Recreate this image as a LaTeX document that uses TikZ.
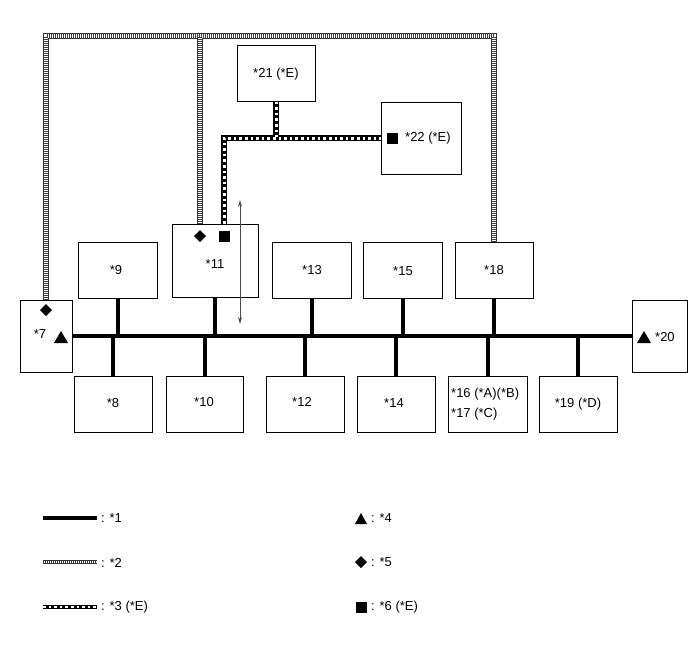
\documentclass[tikz,border=0pt]{standalone}
\usepackage{fontspec}
\setmainfont{Liberation Sans}
\usetikzlibrary{arrows.meta}
\begin{document}
\begin{tikzpicture}[x=1pt,y=-1pt,
  box/.style={draw=black,line width=1pt,inner sep=0pt,fill=white},
  lbl/.style={inner sep=0pt,font=\fontsize{13}{15}\selectfont},
  busline/.style={line width=4pt,black},
  hatchbg/.style={line width=5.5pt,draw=gray!40!black},
  hatchfg/.style={line width=3.5pt,draw=gray!50!black,dash pattern=on 1pt off 1pt},
  hatchwhite/.style={line width=3.5pt,draw=white},
  dotbg/.style={line width=5.5pt,draw=black},
  dotfg/.style={line width=3pt,draw=white,dash pattern=on 2.6pt off 3pt}]
\useasboundingbox (0,0) rectangle (690,659);
% boxes
\node[box,minimum width=52,minimum height=72] (n7) at (46,336) {};
\node[box,minimum width=55,minimum height=72] (n20) at (659.5,336) {};
\node[box,minimum width=79,minimum height=56] (n9) at (117.5,270) {};
\node[box,minimum width=86,minimum height=73] (n11) at (215,260.5) {};
\node[box,minimum width=79,minimum height=56] (n13) at (311.5,270) {};
\node[box,minimum width=79,minimum height=56] (n15) at (402.5,270) {};
\node[box,minimum width=78,minimum height=56] (n18) at (494,270) {};
\node[box,minimum width=78,minimum height=56] (n8) at (113,404) {};
\node[box,minimum width=77,minimum height=56] (n10) at (204.5,404) {};
\node[box,minimum width=78,minimum height=56] (n12) at (305,404) {};
\node[box,minimum width=78,minimum height=56] (n14) at (396,404) {};
\node[box,minimum width=79,minimum height=56] (n16) at (487.5,404) {};
\node[box,minimum width=78,minimum height=56] (n19) at (578,404) {};
\node[box,minimum width=78,minimum height=56] (n21) at (276,73) {};
\node[box,minimum width=80,minimum height=72] (n22) at (421,138) {};
% coordinates
\coordinate (htop) at (200,36);
\coordinate (dcorner) at (224,137);
% hatched lines *2
\foreach \s in {hatchbg,hatchwhite,hatchfg}{
  \draw[\s] (n7.north) |- (htop) -| (n18.north);
  \draw[\s] (n11.north -| htop) -- (htop);
}
% dotted line *3
\foreach \s in {dotbg,dotfg}{
  \draw[\s] (n21.south) -- (n21.south |- dcorner);
  \draw[\s] (n11.north -| dcorner) |- (n22.west);
}
% bus *1
\draw[busline] (n7.east) -- (n20.west);
\foreach \n in {n9,n11,n13,n15,n18}{
  \draw[busline] (\n.south) -- (\n.south |- n7.east);
}
\foreach \n in {n8,n10,n12,n14,n16,n19}{
  \draw[busline] (\n.north) -- (\n.north |- n7.east);
}
% double arrow
\coordinate (atop) at (240,200);
\coordinate (abot) at (240,324);
\draw[gray!60!black,line width=0.8pt,{Stealth[length=7pt,width=4pt]}-{Stealth[length=7pt,width=4pt]}] (atop) -- (abot);
% box texts
\node[lbl] (t7) at (40,334) {*7};
\node[lbl] (t9) at (116,270) {*9};
\node[lbl] (t11) at (215,264) {*11};
\node[lbl] (t13) at (312,270) {*13};
\node[lbl] (t15) at (403,271) {*15};
\node[lbl] (t18) at (494,270) {*18};
\node[lbl] (t8) at (113,403) {*8};
\node[lbl] (t10) at (204,402) {*10};
\node[lbl] (t12) at (302,402) {*12};
\node[lbl] (t14) at (394,403) {*14};
\node[lbl,anchor=west] (t16) at (451,394) {*16 (*A)(*B)};
\node[lbl,anchor=west] (t17) at (451,414) {*17 (*C)};
\node[lbl] (t19) at (578,404) {*19 (*D)};
\node[lbl,anchor=west] (t20) at (655,337) {*20};
\node[lbl] (t21) at (276,74) {*21 (*E)};
\node[lbl,anchor=west] (t22) at (405,138) {*22 (*E)};
% symbols in boxes
\fill (46,304) -- (52,310) -- (46,316) -- (40,310) -- cycle;
\fill (54,343) -- (61,331) -- (68,343) -- cycle;
\fill (200,230) -- (206,236) -- (200,242) -- (194,236) -- cycle;
\fill (218.5,230.5) rectangle (229.5,241.5);
\fill (386.5,132.5) rectangle (397.5,143.5);
\fill (637,343) -- (644,331) -- (651,343) -- cycle;
% legend
\coordinate (l1a) at (43,518); \coordinate (l1b) at (97,518);
\coordinate (l2a) at (43,562); \coordinate (l2b) at (97,562);
\coordinate (l3a) at (43,607); \coordinate (l3b) at (97,607);
\draw[busline] (l1a) -- (l1b);
\draw[line width=4pt,draw=gray!40!black] (l2a) -- (l2b);
\draw[line width=2.6pt,draw=white] (l2a) -- (l2b);
\draw[line width=2.6pt,draw=gray!50!black,dash pattern=on 1pt off 1pt] (l2a) -- (l2b);
\draw[line width=4.5pt,draw=black] (l3a) -- (l3b);
\draw[line width=2.4pt,draw=white,dash pattern=on 2.6pt off 3pt] (l3a) -- (l3b);
\node[lbl,anchor=west] (k1) at (101,518) {: *1};
\node[lbl,anchor=west] (k2) at (101,563) {: *2};
\node[lbl,anchor=west] (k3) at (101,607) {: *3 (*E)};
\fill (355,524) -- (361,513) -- (367,524) -- cycle;
\fill (361,556) -- (367,562) -- (361,568) -- (355,562) -- cycle;
\fill (355.5,601.5) rectangle (366.5,612.5);
\node[lbl,anchor=west] (k4) at (371,518) {: *4};
\node[lbl,anchor=west] (k5) at (371,562) {: *5};
\node[lbl,anchor=west] (k6) at (371,607) {: *6 (*E)};
\end{tikzpicture}
\end{document}
